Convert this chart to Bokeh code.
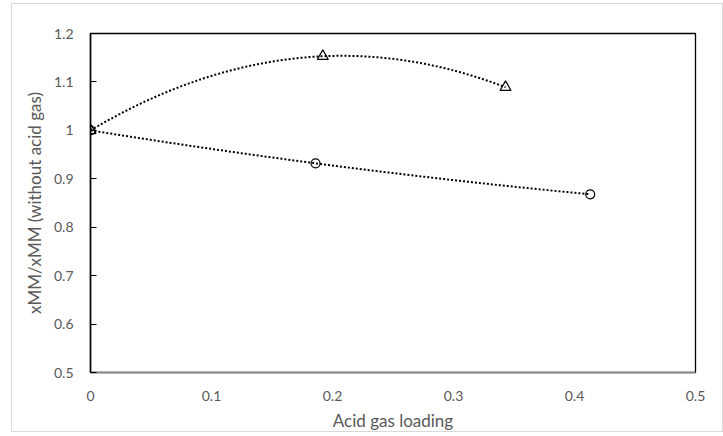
import numpy as np
from bokeh.plotting import figure
from bokeh.models import Range1d, FixedTicker
from bokeh.embed import file_html
from bokeh.resources import INLINE

# Data
tri_x = [0.0, 0.192, 0.343]
tri_y = [1.0, 1.153, 1.089]
circ_x = [0.0, 0.186, 0.413]
circ_y = [1.0, 0.932, 0.868]

x_ticks = [0, 0.1, 0.2, 0.3, 0.4, 0.5]
y_ticks = [0.5, 0.6, 0.7, 0.8, 0.9, 1.0, 1.1, 1.2]
x_tick_labels = {0: "0", 0.1: "0.1", 0.2: "0.2", 0.3: "0.3", 0.4: "0.4", 0.5: "0.5"}
y_tick_labels = {0.5: "0.5", 0.6: "0.6", 0.7: "0.7", 0.8: "0.8", 0.9: "0.9", 1.0: "1", 1.1: "1.1", 1.2: "1.2"}

FONT = "Lato"
TXT = "#595959"

p = figure(
    width=712, height=429,
    output_backend="svg", toolbar_location=None,
    x_range=Range1d(0, 0.5), y_range=Range1d(0.5, 1.2),
    min_border_left=78, min_border_right=29, min_border_top=29, min_border_bottom=60,
    styles={"margin": "3px 0 0 11px", "border": "1px solid #d9d9d9"},
)
p.grid.visible = False
p.outline_line_color = "#000000"
p.outline_line_width = 1.3

# Trendlines (2nd-order polynomial fits, as in the spreadsheet chart)
for xs, ys in [(tri_x, tri_y), (circ_x, circ_y)]:
    coef = np.polyfit(xs, ys, 2)
    xx = np.linspace(min(xs), max(xs), 200)
    p.line(xx, np.polyval(coef, xx), line_color="#000000", line_width=2, line_dash="2 2")

p.scatter(tri_x, tri_y, marker="triangle", size=11, fill_color=None, line_color="#000000", line_width=1.2)
p.scatter(circ_x, circ_y, marker="circle", size=9, fill_color=None, line_color="#000000", line_width=1.2)

# X axis
xa = p.xaxis[0]
xa.ticker = FixedTicker(ticks=x_ticks)
xa.major_label_overrides = x_tick_labels
xa.axis_label = "Acid gas loading"
xa.axis_line_color = "#8c8c8c"
xa.axis_line_width = 1.3
xa.major_tick_line_color = None
xa.minor_tick_line_color = None
xa.major_label_text_font = FONT
xa.major_label_text_font_size = "14px"
xa.major_label_text_color = TXT
xa.major_label_standoff = 12
xa.axis_label_text_font = FONT
xa.axis_label_text_font_size = "17px"
xa.axis_label_text_font_style = "normal"
xa.axis_label_text_color = TXT
xa.axis_label_standoff = 6

# Y axis
ya = p.yaxis[0]
ya.ticker = FixedTicker(ticks=y_ticks)
ya.major_label_overrides = y_tick_labels
ya.axis_label = "xMM/xMM (without acid gas)"
ya.axis_line_color = "#000000"
ya.axis_line_width = 1.5
ya.major_tick_line_color = "#000000"
ya.major_tick_in = 6
ya.major_tick_out = 0
ya.minor_tick_line_color = None
ya.major_label_text_font = FONT
ya.major_label_text_font_size = "14px"
ya.major_label_text_color = TXT
ya.major_label_standoff = 17
ya.axis_label_text_font = FONT
ya.axis_label_text_font_size = "17px"
ya.axis_label_text_font_style = "normal"
ya.axis_label_text_color = TXT
ya.axis_label_standoff = 6

open("out.html", "w").write(file_html(p, INLINE))
